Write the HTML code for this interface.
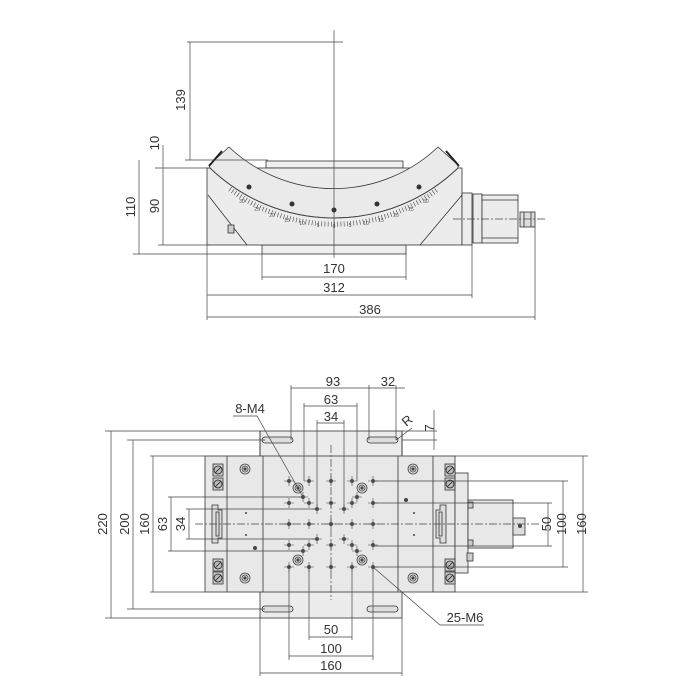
<!DOCTYPE html>
<html><head><meta charset="utf-8"><style>html,body{margin:0;padding:0;background:#fff}svg{display:block}</style></head><body>
<svg width="700" height="700" viewBox="0 0 700 700" xmlns="http://www.w3.org/2000/svg" font-family="Liberation Sans, sans-serif" fill="none" stroke="#444" stroke-width="0.8">
<defs>
<g id="h"><circle r="2" fill="#555" stroke="none"/><path d="M-5 0H5M0-5V5" stroke-width="0.6"/></g>
<g id="cb"><circle r="5" fill="#ddd"/><circle r="3"/><circle r="1.2" fill="#444"/></g>
<g id="sc"><rect x="-5" y="-6" width="10" height="12" fill="#ccc" stroke="#333"/><circle r="4" fill="#bbb" stroke="#222"/><path d="M-3 3L3-3" stroke="#222"/></g>
</defs>
<!-- TOP VIEW -->
<g stroke="#333">
<rect x="266" y="161" width="137" height="7" fill="#efefef"/>
<rect x="262" y="245" width="144" height="9" fill="#efefef"/>
<rect x="207" y="168" width="255" height="77" fill="#ececec"/>
<path d="M209 165L229 147A152 152 0 0 0 438 147L458 165L458 168A178.8 178.8 0 0 1 210 168Z" fill="#eaeaea"/>
<path d="M208 195L247 245M462 195L420 245"/>
<path d="M210 168A178.8 178.8 0 0 0 458 168" stroke="#444" stroke-width="0.9"/>
<path d="M209 166L222 151M459 166L446 151" stroke="#222" stroke-width="2"/>
<path d="M230 189A171 171 0 0 0 438 189" stroke="#444" stroke-width="5" stroke-dasharray="0.6 2.6"/>
<rect x="228" y="225" width="6" height="8" fill="#ccc"/>
<rect x="462" y="193" width="10" height="52" fill="#ececec"/>
<rect x="473" y="194" width="9" height="49" fill="#ececec"/>
<rect x="482" y="195" width="36" height="48" fill="#ececec"/>
<path d="M482 200H518M482 238H518"/>
<rect x="520" y="212" width="15" height="15" fill="#ddd"/>
<path d="M524 212V227M531 212V227"/>
</g>
<g fill="#333" stroke="none">
<circle cx="249" cy="187" r="2.5"/><circle cx="292" cy="204" r="2.5"/><circle cx="334" cy="210" r="2.5"/><circle cx="377" cy="204" r="2.5"/><circle cx="419" cy="187" r="2.5"/>
</g>
<g font-size="5" fill="#555" stroke="none" text-anchor="middle">
<text x="242" y="203">30</text><text x="257" y="211">25</text><text x="272" y="217">20</text><text x="287" y="222">15</text><text x="302" y="225">10</text><text x="318" y="227">5</text><text x="334" y="228">0</text><text x="350" y="227">5</text><text x="366" y="225">10</text><text x="381" y="222">15</text><text x="396" y="217">20</text><text x="411" y="211">25</text><text x="426" y="203">30</text>
</g>
<g stroke="#444" stroke-width="0.7">
<path d="M334 30V258"/>
<path d="M453 219H545" stroke-dasharray="8 2 2 2"/>
<path d="M187 42H343M190 42V160M185 160H268M155 168H210M158 245H210M133 254H262"/>
<path d="M163 145V245M139 160V254"/>
<path d="M262 254V280M406 254V280M262 277H406"/>
<path d="M207 245V320M472 245V298M207 295H472"/>
<path d="M535 227V320M207 317H535"/>
</g>
<g font-size="13" fill="#333" stroke="none" text-anchor="middle">
<text transform="translate(185,100) rotate(-90)">139</text>
<text transform="translate(159,143) rotate(-90)">10</text>
<text transform="translate(159,206) rotate(-90)">90</text>
<text transform="translate(135,207) rotate(-90)">110</text>
<text x="334" y="273">170</text><text x="334" y="292">312</text><text x="370" y="314">386</text>
</g>
<!-- BOTTOM VIEW -->
<g stroke="#333">
<rect x="260" y="431" width="142" height="187" fill="#ececec"/>
<rect x="205" y="456" width="250" height="136" fill="#e8e8e8"/>
<path d="M227 456V592M263 456V592M398 456V592M433 456V592M260 456V431M402 456V431"/>
<rect x="455" y="473" width="13" height="100" fill="#e8e8e8"/>
<rect x="468" y="500" width="45" height="48" fill="#e8e8e8"/>
<rect x="513" y="518" width="12" height="17" fill="#ddd"/>
<rect x="468" y="502" width="5" height="6" fill="#ccc"/><rect x="468" y="540" width="5" height="6" fill="#ccc"/>
<rect x="467" y="553" width="6" height="8" fill="#ccc"/>
<path d="M265 437H290A3 3 0 0 1 290 443H265A3 3 0 0 1 265 437Z M370 437H395A3 3 0 0 1 395 443H370A3 3 0 0 1 370 437Z M265 606H290A3 3 0 0 1 290 612H265A3 3 0 0 1 265 606Z M370 606H395A3 3 0 0 1 395 612H370A3 3 0 0 1 370 606Z" fill="#ddd"/>
<path d="M212 505H218V510H222V538H218V543H212Z M216 512H219V536H216Z" fill="#ddd"/>
<path d="M446 505H440V510H436V538H440V543H446Z M442 512H439V536H442Z" fill="#ddd"/>
</g>
<use href="#sc" x="218" y="470"/><use href="#sc" x="218" y="484"/><use href="#sc" x="218" y="565"/><use href="#sc" x="218" y="578"/>
<use href="#sc" x="450" y="470"/><use href="#sc" x="450" y="484"/><use href="#sc" x="450" y="565"/><use href="#sc" x="450" y="578"/>
<use href="#cb" x="245" y="469"/><use href="#cb" x="245" y="578"/><use href="#cb" x="413" y="469"/><use href="#cb" x="413" y="578"/>
<use href="#cb" x="298" y="488"/><use href="#cb" x="362" y="488"/><use href="#cb" x="298" y="560"/><use href="#cb" x="362" y="560"/>
<g>
<use href="#h" x="289" y="481"/><use href="#h" x="309" y="481"/><use href="#h" x="331" y="481"/><use href="#h" x="352" y="481"/><use href="#h" x="373" y="481"/>
<use href="#h" x="289" y="503"/><use href="#h" x="309" y="503"/><use href="#h" x="331" y="503"/><use href="#h" x="352" y="503"/><use href="#h" x="373" y="503"/>
<use href="#h" x="289" y="524"/><use href="#h" x="309" y="524"/><use href="#h" x="331" y="524"/><use href="#h" x="352" y="524"/><use href="#h" x="373" y="524"/>
<use href="#h" x="289" y="545"/><use href="#h" x="309" y="545"/><use href="#h" x="331" y="545"/><use href="#h" x="352" y="545"/><use href="#h" x="373" y="545"/>
<use href="#h" x="289" y="567"/><use href="#h" x="309" y="567"/><use href="#h" x="331" y="567"/><use href="#h" x="352" y="567"/><use href="#h" x="373" y="567"/>
<use href="#h" x="303" y="497"/><use href="#h" x="357" y="497"/><use href="#h" x="303" y="551"/><use href="#h" x="357" y="551"/>
<use href="#h" x="317" y="509"/><use href="#h" x="344" y="509"/><use href="#h" x="317" y="539"/><use href="#h" x="344" y="539"/>
</g>
<g fill="#444" stroke="none"><circle cx="406" cy="500" r="2"/><circle cx="255" cy="548" r="2"/><circle cx="246" cy="513" r="1"/><circle cx="246" cy="535" r="1"/><circle cx="414" cy="513" r="1"/><circle cx="414" cy="535" r="1"/><circle cx="520" cy="526" r="2"/></g>
<g stroke="#444" stroke-width="0.7">
<path d="M195 524H540" stroke-dasharray="8 2 2 2"/>
<path d="M331 445V600" stroke-dasharray="8 2 2 2"/>
<path d="M105 431H260M111 431V618M105 618H260"/>
<path d="M127 440H265M133 440V609M127 609H265"/>
<path d="M150 456H205M153 456V592M150 592H205"/>
<path d="M168 497H303M171 497V551M168 551H303"/>
<path d="M186 509H317M189 509V539M186 539H317"/>
<path d="M373 481H568M563 481V567M373 567H568"/>
<path d="M373 503H552M548 503V546M373 546H552"/>
<path d="M455 456H588M583 456V592M455 592H588"/>
<path d="M309 567V640M352 567V640M309 637H352"/>
<path d="M289 567V660M373 567V660M289 656H373"/>
<path d="M260 618V676M402 618V676M260 673H402"/>
<path d="M291 440V385M369 440V385M291 388H405M396 440V385"/>
<path d="M304 481V403M357 481V403M304 406H357"/>
<path d="M317 509V420M344 509V420M317 423H344"/>
<path d="M434 410V450M402 440H437M402 431H437"/>
<path d="M396 440L412 428"/>
<path d="M233 416H257L303 497"/>
<path d="M373 567L440 625H484"/>
</g>
<g font-size="13" fill="#333" stroke="none" text-anchor="middle">
<text x="333" y="386">93</text><text x="388" y="386">32</text><text x="331" y="404">63</text><text x="331" y="421">34</text>
<text x="250" y="413">8-M4</text><text x="465" y="622">25-M6</text>
<text transform="translate(410,424) rotate(-40)">R</text>
<text transform="translate(434,428) rotate(-90)">7</text>
<text transform="translate(107,524) rotate(-90)">220</text>
<text transform="translate(129,524) rotate(-90)">200</text>
<text transform="translate(149,524) rotate(-90)">160</text>
<text transform="translate(167,524) rotate(-90)">63</text>
<text transform="translate(185,524) rotate(-90)">34</text>
<text transform="translate(551,524) rotate(-90)">50</text>
<text transform="translate(566,524) rotate(-90)">100</text>
<text transform="translate(586,524) rotate(-90)">160</text>
<text x="331" y="634">50</text><text x="331" y="653">100</text><text x="331" y="670">160</text>
</g>
</svg>
</body></html>
